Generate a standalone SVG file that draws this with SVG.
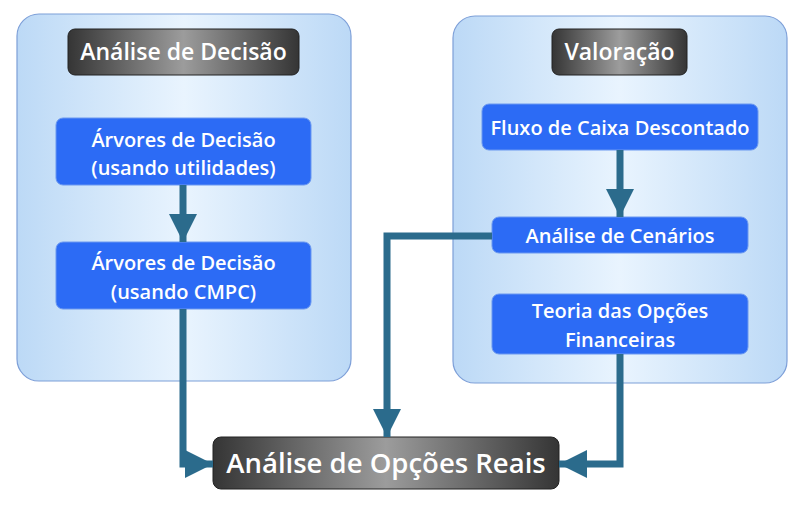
<svg xmlns="http://www.w3.org/2000/svg" width="801" height="508" viewBox="0 0 801 508">
<defs>
<linearGradient id="cont" x1="0" y1="0" x2="1" y2="0">
<stop offset="0" stop-color="#bcd9f6"/><stop offset="0.5" stop-color="#e9f4fe"/><stop offset="1" stop-color="#bcd9f6"/>
</linearGradient>
<linearGradient id="dark" x1="0" y1="0" x2="1" y2="0">
<stop offset="0" stop-color="#353535"/><stop offset="0.5" stop-color="#9c9c9c"/><stop offset="1" stop-color="#353535"/>
</linearGradient>
<marker id="arr" viewBox="0 0 10 10" refX="10" refY="5" markerWidth="4" markerHeight="4" markerUnits="strokeWidth" orient="auto">
<path d="M0,0 L10,5 L0,10 Z" fill="#2b6b8c"/>
</marker>
<style>
.cont{fill:url(#cont);stroke:#7d9fd8;stroke-width:1.2}
.dark{fill:url(#dark);stroke:#222;stroke-width:1}
.blue{fill:#2c6bf5;stroke:#6b98f0;stroke-width:1}
.t{font-family:"Open Sans","Liberation Sans",sans-serif;font-weight:600;fill:#fff;text-anchor:middle}
.ts{font-size:20px}
.tt{font-size:23px}
.tb{font-size:27.5px}
.c{fill:none;stroke:#2b6b8c;stroke-width:7;marker-end:url(#arr)}
</style>
</defs>
<rect width="801" height="508" fill="#fff"/>
<g id="group-decisao">
<rect class="cont" x="17" y="14" width="334" height="367" rx="22"/>
</g>
<g id="group-valoracao">
<rect class="cont" x="453" y="16" width="334" height="367" rx="22"/>
</g>
<g id="title-decisao">
<rect class="dark" x="68" y="29" width="231" height="46" rx="7"/>
<text class="t tt" x="183.5" y="60">Análise de Decisão</text>
</g>
<g id="title-valoracao">
<rect class="dark" x="552" y="29" width="135" height="46" rx="7"/>
<text class="t tt" x="619.5" y="60">Valoração</text>
</g>
<g id="arvores-utilidades">
<rect class="blue" x="56" y="118" width="255" height="67" rx="7"/>
<text class="t ts" x="183.5" y="147">Árvores de Decisão</text>
<text class="t ts" x="183.5" y="175">(usando utilidades)</text>
</g>
<g id="arvores-cmpc">
<rect class="blue" x="56" y="242" width="255" height="67" rx="7"/>
<text class="t ts" x="183.5" y="270">Árvores de Decisão</text>
<text class="t ts" x="183.5" y="299">(usando CMPC)</text>
</g>
<g id="fluxo">
<rect class="blue" x="482" y="104" width="276" height="46" rx="7"/>
<text class="t ts" x="620" y="135">Fluxo de Caixa Descontado</text>
</g>
<g id="cenarios">
<rect class="blue" x="492" y="217" width="256" height="36" rx="7"/>
<text class="t ts" x="620" y="243">Análise de Cenários</text>
</g>
<g id="teoria">
<rect class="blue" x="492" y="294" width="256" height="60" rx="7"/>
<text class="t ts" x="620" y="318">Teoria das Opções</text>
<text class="t ts" x="620" y="347">Financeiras</text>
</g>
<g id="opcoes-reais">
<rect class="dark" x="213" y="437" width="346" height="52" rx="8"/>
<text class="t tb" x="386" y="473">Análise de Opções Reais</text>
</g>
<g id="connectors">
<path class="c" d="M183,185 V242"/>
<path class="c" d="M620,150 V217"/>
<path class="c" d="M183,309 V464 H213"/>
<path class="c" d="M492,236 H387 V437"/>
<path class="c" d="M620,354 V464 H559"/>
</g>
</svg>
